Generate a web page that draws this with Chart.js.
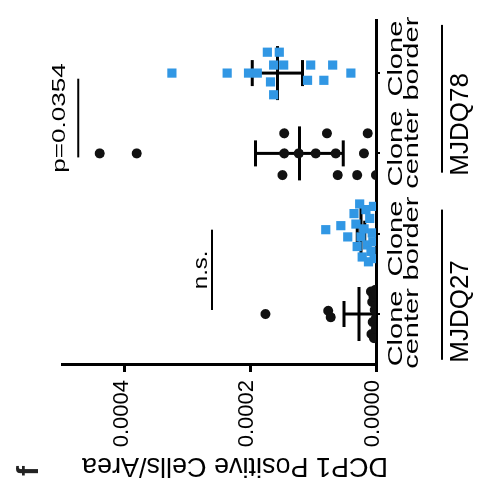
<!DOCTYPE html>
<html>
<head>
<meta charset="utf-8">
<script src="https://cdn.jsdelivr.net/npm/chart.js@4"></script>
<style>
html,body{margin:0;padding:0;background:#fff;overflow:hidden;width:477px;height:499px;}
/* the figure is drawn upright, then turned a quarter left like the reference */
#wrap{position:absolute;left:0;top:0;width:499px;height:477px;transform-origin:0 0;transform:translate(0,499px) rotate(-90deg);}
</style>
</head>
<body>
<div id="wrap"><canvas id="chart" width="499" height="477"></canvas></div>
<script>
const groupNames=['MJDQ27','MJDQ78'];
const categoryLabels=[['Clone','center'],['Clone','border'],['Clone','center'],['Clone','border']];
const yTickValues=[0,0.0002,0.0004];
const yTitle='DCP1 Positive Cells/Area';

// MJDQ27 clone center (black)
const q27Center=[0.000176,0.000076,0.000072,0.000008,0.000007,0.000006,0.000005,0.000004,0.000003,0.000002,0.000001,0,0,0,0];
const q27CenterJit=[0,0.04,-0.04,0.28,-0.25,0.15,-0.1,0.22,-0.3,0.05,0.3,-0.18,0.1,-0.05,0.25];
// MJDQ27 clone border (blue)
const q27Border=[0.000080,0.000056,0.000045,0.000035,0.000032,0.000030,0.000026,0.000024,0.000022,0.000019,0.000016,0.000014,0.000012,0.000010,0.000008,0.000006,0.000004,0.000003,0.000005];
const q27BorderJit=[0.05,0.1,-0.04,0.25,0.12,-0.16,0.37,-0.04,-0.29,0.06,0.3,-0.14,-0.35,0.19,-0.22,0.01,0.34,-0.31,-0.1];
// MJDQ78 clone center (black)
const q78Center=[0.000440,0.000381,0.000146,0.000078,0.000013,0.000146,0.000123,0.000096,0.000064,0.000019,0.000149,0.000061,0.000030,0];
const q78CenterJit=[0,0,0.25,0.25,0.25,0,0,0,0,0,-0.27,-0.27,-0.27,-0.27];
// MJDQ78 clone border (blue)
const q78Border=[0.000325,0.000237,0.000203,0.000189,0.000173,0.000154,0.000163,0.000147,0.000168,0.000163,0.000104,0.000109,0.000069,0.000083,0.000040];
const q78BorderJit=[0,0,0,0,0.26,0.26,0.1,0.1,-0.11,-0.27,0.1,-0.09,0.1,-0.09,0];

const groupMeans=[0.000027,0.000024,0.000122,0.000157];
const groupSem=[0.000024,0.000006,0.000070,0.000040];

const compLabels=['n.s.','p=0.0354'];
const compHeights=[0.000261,0.000474];

function pts(vals,jit,cat){ return vals.map((v,i)=>({x:cat+jit[i],y:v})); }
const blackPts=pts(q27Center,q27CenterJit,1).concat(pts(q78Center,q78CenterJit,3));
const bluePts=pts(q27Border,q27BorderJit,2).concat(pts(q78Border,q78BorderJit,4));

const FONT='"Liberation Sans", Arial, sans-serif';

const errorBars={
  id:'errorBars',
  beforeDatasetsDraw(chart){
    const {ctx,scales:{x,y}}=chart;
    ctx.save(); ctx.strokeStyle='#000'; ctx.lineWidth=3;
    groupMeans.forEach((m,i)=>{
      const cx=x.getPixelForValue(i+1);
      const ym=y.getPixelForValue(m);
      const yt=y.getPixelForValue(m+groupSem[i]);
      const yb=y.getPixelForValue(Math.max(0,m-groupSem[i]));
      ctx.beginPath();
      ctx.moveTo(cx-27,ym); ctx.lineTo(cx+27,ym);
      ctx.moveTo(cx,yt); ctx.lineTo(cx,yb);
      ctx.moveTo(cx-13,yt); ctx.lineTo(cx+13,yt);
      ctx.moveTo(cx-13,yb); ctx.lineTo(cx+13,yb);
      ctx.stroke();
    });
    ctx.restore();
  }
};

const groupSpan=[[0.43,2.30],[2.76,4.60]];
const compSpan=[[1.05,2.05],[2.95,3.93]];
const compGap=[5,13];

const labels={
  id:'labels',
  afterDraw(chart){
    const {ctx,scales:{x,y}}=chart;
    ctx.save();
    ctx.fillStyle='#000'; ctx.strokeStyle='#000';
    ctx.textBaseline='alphabetic';

    // category names, two lines each
    ctx.font='20px '+FONT; ctx.textAlign='center';
    categoryLabels.forEach((lines,i)=>{
      const px=x.getPixelForValue(2.5+(i+1-2.5)*1.12);
      lines.forEach((t,j)=>{
        ctx.save(); ctx.translate(px,402+j*16); ctx.scale(1.45,1); ctx.fillText(t,0,0); ctx.restore();
      });
    });

    // group underline + name
    ctx.lineWidth=2; ctx.font='26px '+FONT; ctx.textAlign='left';
    groupNames.forEach((g,i)=>{
      const a=x.getPixelForValue(groupSpan[i][0]), b=x.getPixelForValue(groupSpan[i][1]);
      ctx.beginPath(); ctx.moveTo(a,442); ctx.lineTo(b,442); ctx.stroke();
      ctx.fillText(g,a-3,468);
    });

    // comparison lines
    compLabels.forEach((t,i)=>{
      const a=x.getPixelForValue(compSpan[i][0]), b=x.getPixelForValue(compSpan[i][1]);
      const py=y.getPixelForValue(compHeights[i]);
      ctx.beginPath(); ctx.moveTo(a,py); ctx.lineTo(b,py); ctx.stroke();
      ctx.save();
      ctx.translate((a+b)/2,py-compGap[i]);
      ctx.font=(i===0?'20px ':'18px ')+FONT; ctx.textAlign='center';
      ctx.scale(i===0?1.2:1.45,1);
      ctx.fillText(t,0,0);
      ctx.restore();
    });

    // y title
    ctx.save();
    ctx.translate(41,235); ctx.rotate(-Math.PI/2);
    ctx.font='27px '+FONT; ctx.textAlign='center';
    ctx.fillText(yTitle,0,0);
    ctx.restore();

    // panel letter, cut at the edge
    ctx.fillStyle='#222'; ctx.font='bold 30px '+FONT; ctx.textAlign='left';
    ctx.fillText('f',23,38);
    ctx.restore();
  }
};

const ctx=document.getElementById('chart').getContext('2d');
new Chart(ctx,{
  type:'scatter',
  data:{datasets:[
    {data:blackPts,pointStyle:'circle',pointRadius:5,backgroundColor:'#111',borderWidth:0},
    {data:bluePts,pointStyle:'rect',pointRadius:6.5,backgroundColor:'#3197e4',borderWidth:0}
  ]},
  options:{
    responsive:false, animation:false,
    layout:{padding:{top:62,right:20,left:0,bottom:0}},
    plugins:{legend:{display:false},tooltip:{enabled:false}},
    scales:{
      x:{type:'linear',min:0.365,max:4.661,
        afterFit:s=>{s.height=101;},
        afterBuildTicks:s=>{s.ticks=[1,2,3,4].map(v=>({value:v}));},
        ticks:{display:false},
        grid:{drawOnChartArea:false,color:'#000',lineWidth:2,tickLength:4},
        border:{color:'#000',width:3}},
      y:{min:0,max:0.0005,
        afterFit:s=>{s.width=134;},
        afterBuildTicks:s=>{s.ticks=yTickValues.map(v=>({value:v}));},
        ticks:{color:'#000',font:{family:FONT,size:22},padding:8,labelOffset:-3,callback:v=>v.toFixed(4)},
        grid:{drawOnChartArea:false,color:'#000',lineWidth:3,tickLength:7},
        border:{color:'#000',width:3}}
    }
  },
  plugins:[errorBars,labels]
});
</script>
</body>
</html>
